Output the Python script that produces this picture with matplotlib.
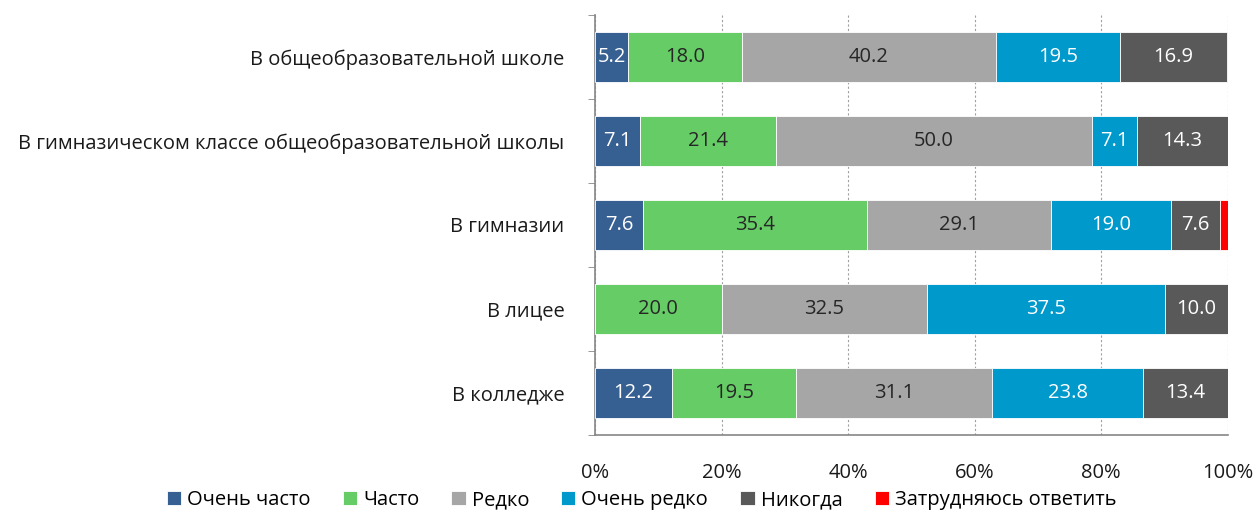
import numpy as np
import matplotlib.pyplot as plt

plt.rcParams['font.family'] = ['Open Sans', 'DejaVu Sans']

categories = ['В общеобразовательной школе',
              'В гимназическом классе общеобразовательной школы',
              'В гимназии',
              'В лицее',
              'В колледже']
series = ['Очень часто', 'Часто', 'Редко', 'Очень редко', 'Никогда', 'Затрудняюсь ответить']
very_often = [5.2, 7.1, 7.6, 0.0, 12.2]
often = [18.0, 21.4, 35.4, 20.0, 19.5]
rarely = [40.2, 50.0, 29.1, 32.5, 31.1]
very_rarely = [19.5, 7.1, 19.0, 37.5, 23.8]
never = [16.9, 14.3, 7.6, 10.0, 13.4]
hard_to_say = [0.2, 0.0, 1.3, 0.0, 0.0]

colors = ['#376092', '#66CC66', '#A6A6A6', '#0099CC', '#595959', '#FF0000']
text_colors = ['white', '#262626', '#262626', 'white', 'white', None]

data = np.array([very_often, often, rarely, very_rarely, never, hard_to_say])
totals = data.sum(axis=0)
pct = data / totals * 100

fs = 14.5

fig = plt.figure(figsize=(12.58, 5.17), dpi=100)
ax = fig.add_axes([0.473, 0.159, 0.503, 0.812])

y = np.arange(len(categories))
left = np.zeros(len(categories))
for i, name in enumerate(series):
    ax.barh(y, pct[i], left=left, height=0.59, color=colors[i],
            edgecolor='white', linewidth=0.6, label=name, zorder=3)
    if text_colors[i]:
        for j in range(len(categories)):
            if data[i, j] > 0:
                ax.text(left[j] + pct[i, j] / 2, y[j], f'{data[i, j]:.1f}',
                        ha='center', va='center', fontsize=fs,
                        color=text_colors[i], zorder=4)
    left += pct[i]

ax.set_xlim(0, 100)
ax.set_ylim(4.5, -0.5)
ax.set_yticks(y)
ax.set_yticklabels(categories, fontsize=fs, color='#1a1a1a')
ax.set_yticks(np.arange(-0.5, 5, 1), minor=True)
ax.tick_params(axis='y', which='major', length=0, pad=22)
ax.tick_params(axis='y', which='minor', length=5, color='#868686')
ax.set_xticks(np.arange(0, 101, 20))
ax.set_xticklabels([f'{v}%' for v in range(0, 101, 20)], fontsize=fs, color='#1a1a1a')
ax.tick_params(axis='x', length=0, pad=20)
ax.grid(axis='x', linestyle=(0, (2, 2)), color='#A0A0A0', linewidth=0.8, zorder=0)

for side in ['top', 'right']:
    ax.spines[side].set_visible(False)
for side in ['left', 'bottom']:
    ax.spines[side].set_color('#868686')
    ax.spines[side].set_linewidth(1.2)

fig.legend(loc='lower center', bbox_to_anchor=(0.51, -0.022), ncol=6, frameon=False,
           fontsize=fs, handlelength=0.7, handleheight=0.7, handletextpad=0.3,
           columnspacing=1.6)

fig.savefig('out.png', dpi=100)
